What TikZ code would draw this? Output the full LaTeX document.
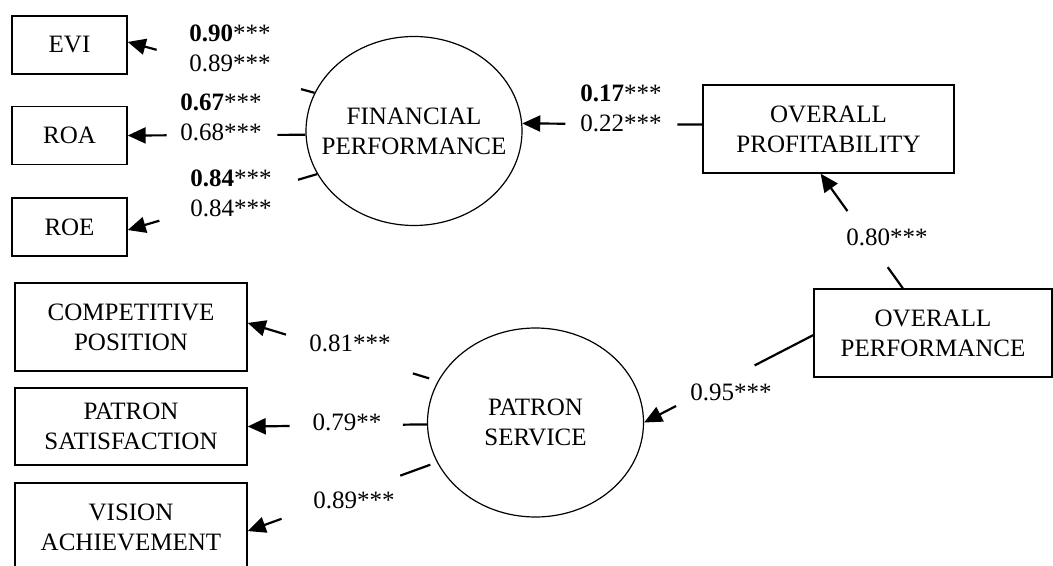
\documentclass[tikz,border=0pt]{standalone}
\usepackage{fontspec}
\setmainfont{Liberation Serif}
\usetikzlibrary{shapes,arrows.meta,positioning,calc}

\begin{document}
\begin{tikzpicture}[x=0.5pt,y=-0.5pt,
  font=\fontsize{12.5}{15}\selectfont,
  box/.style={shape=rectangle, draw=black, line width=0.7pt, align=center, inner sep=0pt},
  latent/.style={shape=ellipse, draw=black, line width=0.6pt, inner sep=0pt, minimum width=108pt, minimum height=94.5pt},
  coef/.style={align=center, inner sep=0pt},
  stub/.style={line width=1.1pt},
  load/.style={line width=1.1pt, -{Triangle[length=9pt,width=8pt]}}]

\useasboundingbox (0,0) rectangle (1053,566);

% Financial Performance
\node [box, minimum width=57.5pt, minimum height=29pt] at (69.5,45)    (evi) {EVI};
\node [box, minimum width=57.5pt, minimum height=29pt] at (69.5,135.5) (roa) {ROA};
\node [box, minimum width=57.5pt, minimum height=29pt] at (69.5,227)   (roe) {ROE};
\node [latent] at (414,131) (fin_perf) {};
\node [align=center] at (fin_perf) (fin_perf_txt) {FINANCIAL\\PERFORMANCE};

\draw [stub] (fin_perf.159) -- ($(fin_perf.159)!7pt!(evi.3)$);
\draw [load] ($(evi.3)!15pt!(fin_perf.159)$) -- (evi.3);
\draw [stub] (fin_perf.182) -- ($(fin_perf.182)!14pt!(roa.east)$);
\draw [load] ($(roa.east)!19.5pt!(fin_perf.182)$) -- (roa.east);
\draw [stub] (fin_perf.204) -- ($(fin_perf.204)!10pt!(roe.357)$);
\draw [load] ($(roe.357)!16.5pt!(fin_perf.204)$) -- (roe.357);

\node [coef] at (230,48)    (coef_evi) {\textbf{0.90}***\\0.89***};
\node [coef] at (221,117.5) (coef_roa) {\textbf{0.67}***\\0.68***};
\node [coef] at (231,193.5) (coef_roe) {\textbf{0.84}***\\0.84***};

% Overall Performance
\node [box, minimum width=125.5pt, minimum height=44pt] at (828.5,129) (overall_prof) {OVERALL\\PROFITABILITY};
\node [box, minimum width=119pt, minimum height=44pt] at (933,333) (overall_perf) {OVERALL\\PERFORMANCE};

\draw [stub] (overall_prof.178) -- ($(overall_prof.178)!12.5pt!(fin_perf.4)$);
\draw [load] ($(fin_perf.4)!21.5pt!(overall_prof.178)$) -- (fin_perf.4);
\draw [stub] (overall_perf.124) -- ($(overall_perf.124)!13pt!(overall_prof.260)$);
\draw [load] ($(overall_prof.260)!23pt!(overall_perf.124)$) -- (overall_prof.260);

\node [coef] at (621,108) (coef_prof) {\textbf{0.17}***\\0.22***};
\node [coef] at (887,237) (coef_op_prof) {0.80***};
\node [coef] at (731,392) (coef_op_serv) {0.95***};

% Patron Service
\node [latent] at (535.5,422.5) (patron_serv) {};
\node [align=center] at (patron_serv) (patron_serv_txt) {PATRON\\SERVICE};
\node [box, minimum width=116pt, minimum height=44pt]   at (131,327)   (comp_pos) {COMPETITIVE\\POSITION};
\node [box, minimum width=116pt, minimum height=38.5pt] at (131,426.5) (patron_sat) {PATRON\\SATISFACTION};
\node [box, minimum width=116pt, minimum height=44pt]   at (131,527)   (vision_ach) {VISION\\ACHIEVEMENT};

\draw [stub] (overall_perf.181) -- ($(overall_perf.181)!33pt!(patron_serv.east)$);
\draw [load] ($(patron_serv.east)!18pt!(overall_perf.181)$) -- (patron_serv.east);
\draw [stub, shorten <=4.5pt] (patron_serv.157) -- ($(patron_serv.157)!13pt!(comp_pos.2)$);
\draw [load] ($(comp_pos.2)!20pt!(patron_serv.157)$) -- (comp_pos.2);
\draw [stub] (patron_serv.181) -- ($(patron_serv.181)!12pt!(patron_sat.east)$);
\draw [load] ($(patron_sat.east)!21pt!(patron_serv.181)$) -- (patron_sat.east);
\draw [stub, shorten <=3.5pt] (patron_serv.202) -- ($(patron_serv.202)!19.5pt!(vision_ach.358)$);
\draw [load] ($(vision_ach.358)!18pt!(patron_serv.202)$) -- (vision_ach.358);

\node [coef] at (350,343) (coef_comp) {0.81***};
\node [coef] at (347,422) (coef_sat) {0.79**};
\node [coef] at (354,500) (coef_vis) {0.89***};

\end{tikzpicture}
\end{document}
